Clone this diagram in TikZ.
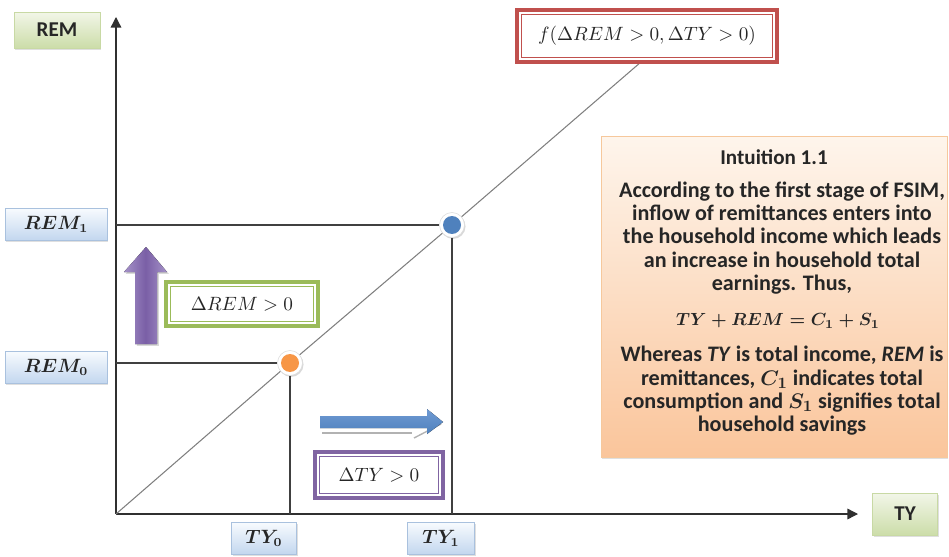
\documentclass[tikz,border=0pt]{standalone}
\usepackage{amsmath}
\usepackage[no-math]{fontspec}
\setmainfont{Carlito}
\usetikzlibrary{shadows,arrows.meta,calc}

\definecolor{axiscol}{HTML}{303030}
\definecolor{guidecol}{HTML}{404040}
\definecolor{diagcol}{HTML}{7F7F7F}
\definecolor{inkcol}{HTML}{262626}
\definecolor{redframe}{HTML}{C0504D}
\definecolor{greenframe}{HTML}{9BBB59}
\definecolor{purpleframe}{HTML}{8064A2}
\definecolor{dotblue}{HTML}{4F81BD}
\definecolor{dotorange}{HTML}{F79646}
\definecolor{tagtop}{HTML}{F8FBFE}
\definecolor{tagbot}{HTML}{C3D7EF}
\definecolor{tagline}{HTML}{A9C1DE}
\definecolor{axtop}{HTML}{F2F6E8}
\definecolor{axbot}{HTML}{CCDDA9}
\definecolor{axline}{HTML}{C8D9A4}
\definecolor{notetop}{HTML}{FEF5EC}
\definecolor{notebot}{HTML}{FAC59B}
\definecolor{noteline}{HTML}{F6C89C}
\definecolor{arrowblue}{HTML}{4F81BD}
\definecolor{arrowbluelight}{HTML}{6F9AD3}
\definecolor{arrowpurple}{HTML}{7A5FA6}
\definecolor{arrowpurplelight}{HTML}{A592C8}

\tikzset{
  soft shadow/.style={drop shadow={opacity=0.25, shadow xshift=0.8pt, shadow yshift=-0.9pt}},
  tag/.style={rectangle, draw=tagline, line width=0.4pt, top color=tagtop,
    bottom color=tagbot, minimum height=0.64cm, soft shadow, text=inkcol,
    font=\fontsize{10.5}{12}\selectfont},
  axlabel/.style={rectangle, draw=axline, line width=0.4pt, top color=axtop,
    bottom color=axbot, soft shadow, text=inkcol,
    font=\fontsize{12}{14}\selectfont\bfseries},
  frame/.style={rectangle, draw=#1, line width=2.3pt, fill=white, text=inkcol,
    font=\fontsize{11}{13}\selectfont,
    path picture={\draw[#1, line width=0.6pt]
      ($(path picture bounding box.south west)+(4.5,-4.5)$) rectangle
      ($(path picture bounding box.north east)+(-4.5,4.5)$);}},
  dot/.style={circle, fill=white, draw=black!15, line width=0.3pt,
    minimum size=0.5cm, inner sep=0pt,
    drop shadow={opacity=0.3, shadow xshift=0.6pt, shadow yshift=-0.8pt},
    path picture={\fill[#1] (path picture bounding box.center) circle (0.18cm);}},
  axis/.style={draw=axiscol, line width=0.75pt, -{Triangle[length=6pt,width=6pt]}},
  guide/.style={draw=guidecol, line width=0.6pt},
  diag/.style={draw=diagcol, line width=0.6pt},
  notetext/.style={text=inkcol, align=center, inner sep=0pt,
    font=\fontsize{12.6}{13.3}\selectfont\bfseries},
}

\begin{document}
\begin{tikzpicture}[x=0.02cm, y=-0.02cm]
\useasboundingbox (0,0) rectangle (949,557);

% axes and the diagonal relation
\coordinate (O) at (116,514);
\coordinate (Ytip) at (116,17);
\coordinate (Xtip) at (858,514);
\coordinate (Dend) at (641,62);

\draw[axis] (O) -- (Ytip);
\draw[axis] (O) -- (Xtip);

\node[dot=dotorange] (P0) at (290,363) {};
\node[dot=dotblue] (P1) at (452,225) {};

\draw[diag] (O) -- (P0);
\draw[diag] (P0) -- (P1);
\draw[diag] (P1) -- (Dend);

% projections onto the axes
\draw[guide] (O |- P0) -- (P0);
\draw[guide] (P0) -- (P0 |- O);
\draw[guide] (O |- P1) -- (P1);
\draw[guide] (P1) -- (P1 |- O);

% axis labels
\node[axlabel, minimum width=1.72cm, minimum height=0.72cm] (remlab) at (57,30) {REM};
\node[axlabel, minimum width=1.3cm, minimum height=0.84cm] (tylab) at (905,514) {TY};

\node[tag, minimum width=2.04cm] (rem1) at (56,224) {$\boldsymbol{REM_1}$};
\node[tag, minimum width=2.04cm] (rem0) at (56,367) {$\boldsymbol{REM_0}$};
\node[tag, minimum width=1.3cm] (ty0) at (264,538) {$\boldsymbol{TY_0}$};
\node[tag, minimum width=1.34cm] (ty1) at (441,538) {$\boldsymbol{TY_1}$};

% framed expressions
\node[frame=redframe, minimum width=5.2cm, minimum height=1.04cm] (fbox) at (647,36)
  {$f(\Delta REM > 0, \Delta TY > 0)$};
\node[frame=greenframe, minimum width=3.04cm, minimum height=0.88cm] (dremb) at (242,304)
  {$\Delta REM > 0$};
\node[frame=purpleframe, minimum width=2.56cm, minimum height=0.92cm] (dtyb) at (379,475)
  {$\Delta TY > 0$};

% direction arrows
\fill[left color=arrowpurplelight, right color=arrowpurplelight, middle color=arrowpurple,
  drop shadow={opacity=0.3, shadow xshift=1pt, shadow yshift=-1pt}]
  (135,344) -- (135,272) -- (124,272) -- (146,247) -- (167,272) -- (157,272) -- (157,344) -- cycle;
\draw[gray!60, line width=0.8pt] (322,433) -- (412,433);
\draw[gray!60, line width=0.8pt] (414,438) -- (441,424);
\fill[top color=arrowbluelight, bottom color=arrowblue]
  (320,416) -- (427,416) -- (427,409) -- (443,422) -- (427,434) -- (427,428) -- (320,428) -- cycle;

% explanatory note
\node[rectangle, draw=noteline, line width=0.5pt, top color=notetop, bottom color=notebot,
  minimum width=6.92cm, minimum height=6.42cm, soft shadow] (note) at (774,297) {};
\node[notetext, font=\fontsize{12}{14}\selectfont\bfseries] (ntitle) at (774,157) {Intuition 1.1};
\node[notetext] (npara1) at (782,238) {According to the first stage of FSIM,\\
  inflow of remittances enters into\\
  the household income which leads\\
  an increase in household total\\
  earnings. Thus,};
\node[notetext, font=\fontsize{10.2}{12}\selectfont] (neq) at (778,321)
  {$\boldsymbol{TY + REM = C_1 + S_1}$};
\node[notetext] (npara2) at (782,391) {Whereas \textit{TY} is total income, \textit{REM} is\\
  remittances, $\boldsymbol{C_1}$ indicates total\\
  consumption and $\boldsymbol{S_1}$ signifies total\\
  household savings};
\end{tikzpicture}
\end{document}
